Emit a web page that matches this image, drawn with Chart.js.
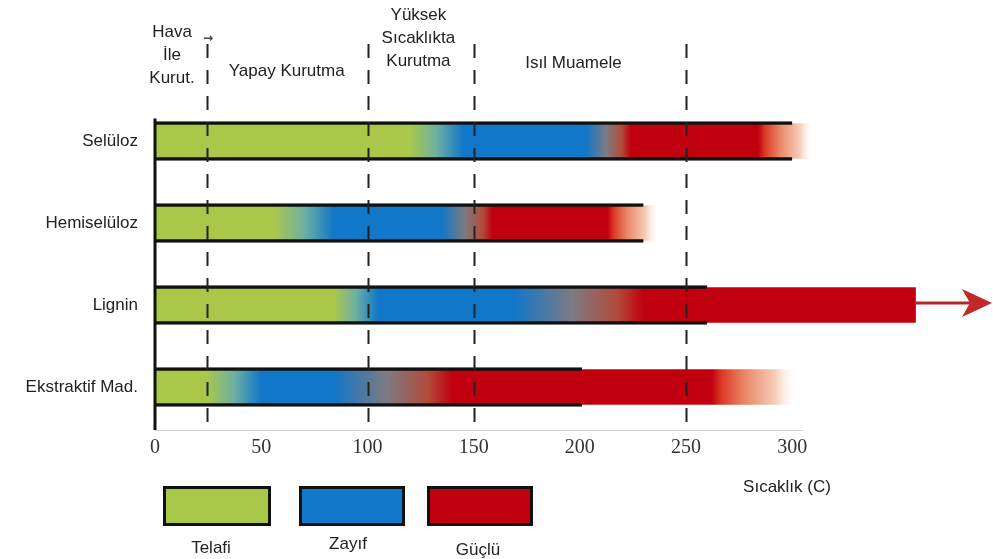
<!DOCTYPE html>
<html>
<head>
<meta charset="utf-8">
<script src="https://cdn.jsdelivr.net/npm/chart.js@4"></script>
<style>
  html, body { margin: 0; padding: 0; background: #fff; }
  #wrap { position: relative; width: 993px; height: 559px; font-family: "Liberation Sans", Arial, sans-serif; }
  #wrap canvas { position: absolute; left: 0; top: 0; }
  .box { position: absolute; top: 486px; height: 34px; border: 3px solid #111; }
  .lbl { position: absolute; font-size: 17px; color: #222; transform: translate(-50%, -50%); white-space: nowrap; }
</style>
</head>
<body>
<div id="wrap">
  <canvas id="chart" width="993" height="559"></canvas>
  <div class="box" style="left:163px;width:102px;background:#a9c84a"></div>
  <div class="box" style="left:299px;width:100px;background:#1177c9"></div>
  <div class="box" style="left:427px;width:100px;background:#c0000e"></div>
  <div class="lbl" style="left:211px;top:548px">Telafi</div>
  <div class="lbl" style="left:348px;top:544px">Zayıf</div>
  <div class="lbl" style="left:478px;top:550px">Güçlü</div>
  <div class="lbl" style="left:787px;top:487px">Sıcaklık (C)</div>
</div>
<script>
// Materials and their temperature ranges (°C)
const materials = ['Selüloz', 'Hemiselüloz', 'Lignin', 'Ekstraktif Mad.'];
const outlineEnd = [300, 230, 260, 201];
const greenEnd = [120, 56, 84, 24];
const blueStart = [145, 84, 105, 50];
const blueEnd = [203, 135, 169, 84];
const redStart = [224, 159, 230, 140];
const redEnd = [284, 213, 358, 262];
const fadeEnd = [310, 237, 358, 302];
const arrowEnd = [null, null, 394, null];

// x axis ticks and drying phases
const xTicks = [0, 50, 100, 150, 200, 250, 300];
const phaseLines = [24.5, 100.5, 150, 250];
const phaseLabels = [['Hava', 'İle', 'Kurut.'], ['Yapay Kurutma'], ['Yüksek', 'Sıcaklıkta', 'Kurutma'], ['Isıl Muamele']];
const phaseCenters = [8, 62, 124, 197];

const GREEN = '#a9c84a', BLUE = '#1177c9', RED = '#c0000e';

// Build the colour gradient for one bar
function barGradient(context) {
    const chart = context.chart;
    const i = context.dataIndex;
    const x = chart.scales.x;
    if (!x || !chart.chartArea || i === undefined) return RED;
    const end = fadeEnd[i];
    const g = chart.ctx.createLinearGradient(x.getPixelForValue(0), 0, x.getPixelForValue(end), 0);
    const f = v => Math.min(Math.max(v / end, 0), 1);
    const mixAt = (a, b, t) => f(a + (b - a) * t);
    g.addColorStop(0, GREEN);
    g.addColorStop(f(greenEnd[i]), GREEN);
    g.addColorStop(mixAt(greenEnd[i], blueStart[i], 0.5), '#6fb0a2');
    g.addColorStop(f(blueStart[i]), BLUE);
    g.addColorStop(f(blueEnd[i]), BLUE);
    g.addColorStop(mixAt(blueEnd[i], redStart[i], 0.45), '#7d7b82');
    g.addColorStop(mixAt(blueEnd[i], redStart[i], 0.8), '#b24a3a');
    g.addColorStop(f(redStart[i]), RED);
    g.addColorStop(f(redEnd[i]), RED);
    if (fadeEnd[i] > redEnd[i]) {
        g.addColorStop(mixAt(redEnd[i], end, 0.12), '#dc3a26');
        g.addColorStop(mixAt(redEnd[i], end, 0.4), '#e98a6a');
        g.addColorStop(mixAt(redEnd[i], end, 0.75), '#f6cdb8');
        g.addColorStop(1, 'rgba(255,255,255,0)');
    }
    return g;
}

// Dashed phase lines, labels, arrow and axis lines
const decorPlugin = {
    id: 'decor',
    afterDatasetsDraw(chart) {
        const ctx = chart.ctx;
        const x = chart.scales.x;
        const y = chart.scales.y;
        ctx.save();

        // x axis line
        ctx.strokeStyle = '#cfcfcf';
        ctx.lineWidth = 1;
        ctx.beginPath();
        ctx.moveTo(x.getPixelForValue(0), 430.5);
        ctx.lineTo(x.getPixelForValue(305), 430.5);
        ctx.stroke();

        // y axis line, starting at the top of the first bar
        const first = chart.getDatasetMeta(0).data[0];
        const x0px = x.getPixelForValue(0);
        ctx.strokeStyle = '#111';
        ctx.lineWidth = 3;
        ctx.beginPath();
        ctx.moveTo(x0px, first.y - first.height / 2 - 3);
        ctx.lineTo(x0px, 430);
        ctx.stroke();

        // dashed phase lines
        ctx.strokeStyle = '#222';
        ctx.lineWidth = 2;
        ctx.setLineDash([14, 12]);
        phaseLines.forEach(v => {
            const px = Math.round(x.getPixelForValue(v)) + 0.5;
            ctx.beginPath();
            ctx.moveTo(px, 44);
            ctx.lineTo(px, 432);
            ctx.stroke();
        });
        ctx.setLineDash([]);

        // phase labels
        ctx.fillStyle = '#222';
        ctx.font = '17px "Liberation Sans", Arial, sans-serif';
        ctx.textAlign = 'center';
        ctx.textBaseline = 'middle';
        const tops = [32, 71, 15, 63];
        phaseLabels.forEach((lines, k) => {
            const cx = x.getPixelForValue(phaseCenters[k]);
            lines.forEach((t, j) => ctx.fillText(t, cx, tops[k] + j * 23));
        });
        ctx.font = 'bold 12px "DejaVu Sans", sans-serif';
        ctx.fillStyle = '#444';
        ctx.fillText('→', x.getPixelForValue(phaseLines[0]) + 1, 39);

        // arrow continuing the lignin bar
        arrowEnd.forEach((v, i) => {
            if (v === null) return;
            const cy = y.getPixelForValue(i) - 2;
            const xs = x.getPixelForValue(redEnd[i]);
            const tip = x.getPixelForValue(v);
            ctx.strokeStyle = '#b3262a';
            ctx.lineWidth = 3;
            ctx.beginPath();
            ctx.moveTo(xs, cy);
            ctx.lineTo(tip - 20, cy);
            ctx.stroke();
            ctx.fillStyle = '#c0282c';
            ctx.beginPath();
            ctx.moveTo(tip, cy);
            ctx.lineTo(tip - 30, cy - 14);
            ctx.lineTo(tip - 22, cy);
            ctx.lineTo(tip - 30, cy + 14);
            ctx.closePath();
            ctx.fill();
        });
        ctx.restore();
    }
};

const chart = new Chart(document.getElementById('chart'), {
    type: 'bar',
    data: {
        labels: materials,
        datasets: [
            {
                label: 'outline',
                data: outlineEnd.map(v => [0, v]),
                backgroundColor: 'rgba(0,0,0,0)',
                borderColor: '#111',
                borderWidth: { top: 3, bottom: 3, left: 0, right: 0 },
                borderSkipped: false,
                barThickness: 39
            },
            {
                label: 'renk',
                data: fadeEnd.map(v => [0, v]),
                backgroundColor: barGradient,
                borderWidth: 0,
                barThickness: 35
            }
        ]
    },
    options: {
        indexAxis: 'y',
        responsive: false,
        animation: false,
        layout: { padding: { top: 100, right: 1, left: 0, bottom: 0 } },
        plugins: { legend: { display: false }, tooltip: { enabled: false } },
        datasets: { bar: { grouped: false } },
        scales: {
            x: {
                type: 'linear',
                min: 0,
                max: 394,
                grid: { display: false, drawTicks: false },
                border: { display: false },
                afterBuildTicks: scale => { scale.ticks = xTicks.map(v => ({ value: v })); },
                afterFit: scale => { scale.height = 131; },
                ticks: {
                    padding: 8,
                    color: '#333',
                    font: { family: '"Liberation Serif", "Times New Roman", serif', size: 20 }
                }
            },
            y: {
                grid: { display: false, drawTicks: false },
                border: { display: false },
                afterFit: scale => { scale.width = 155; },
                ticks: {
                    padding: 17,
                    color: '#222',
                    font: { family: '"Liberation Sans", Arial, sans-serif', size: 17 }
                }
            }
        }
    },
    plugins: [decorPlugin]
});
</script>
</body>
</html>
